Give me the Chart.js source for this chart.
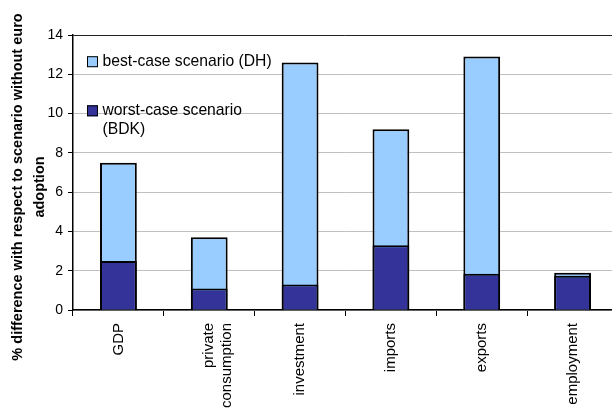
<!DOCTYPE html>
<html>
<head>
<meta charset="utf-8">
<script src="https://cdn.jsdelivr.net/npm/chart.js@4/dist/chart.umd.min.js"></script>
<style>
  html, body { margin: 0; padding: 0; background: #fff; overflow: hidden; width: 612px; height: 409px; }
  #wrap { position: absolute; left: 0; top: 0; width: 640px; height: 409px; }
</style>
</head>
<body>
<div id="wrap"><canvas id="chart"></canvas></div>
<script>
// Categories and scenario results (% difference vs. no euro adoption)
const categories = ['GDP', ['private', 'consumption'], 'investment', 'imports', 'exports', 'employment'];
const bestCase = [7.5, 3.7, 12.6, 9.2, 12.9, 1.9];
const worstCase = [2.5, 1.1, 1.3, 3.3, 1.85, 1.75];
const yTicks = [0, 2, 4, 6, 8, 10, 12, 14];
const bestLabel = 'best-case scenario (DH)';
const worstLabel = ['worst-case scenario', '(BDK)'];
const yTitle = ['% difference with respect to scenario without euro', 'adoption'];

const FONT = 'Arial, "Liberation Sans", sans-serif';
Chart.defaults.font.family = FONT;
Chart.defaults.color = '#000';

// Legend drawn inside the plot area, top-left
const innerLegend = {
  id: 'innerLegend',
  afterDraw(chart) {
    const ctx = chart.ctx;
    ctx.save();
    ctx.font = '15.7px ' + FONT;
    ctx.textBaseline = 'middle';
    ctx.textAlign = 'left';
    const items = [
      { ds: chart.data.datasets[1], y: 61.7 },
      { ds: chart.data.datasets[0], y: 110.8 }
    ];
    items.forEach(it => {
      ctx.fillStyle = it.ds.backgroundColor;
      ctx.fillRect(87, it.y - 5.5, 11, 11);
      ctx.strokeStyle = '#000';
      ctx.lineWidth = 1;
      ctx.strokeRect(87.5, it.y - 5, 10, 10);
      ctx.fillStyle = '#000';
      const lines = Array.isArray(it.ds.label) ? it.ds.label : [it.ds.label];
      lines.forEach((ln, i) => ctx.fillText(ln, 102.5, it.y + i * 18.6));
    });
    ctx.restore();
  }
};

// Two-line rotated title for the value axis
const axisTitle = {
  id: 'axisTitle',
  afterDraw(chart) {
    const ctx = chart.ctx;
    ctx.save();
    ctx.font = 'bold 14.5px ' + FONT;
    ctx.fillStyle = '#000';
    ctx.textAlign = 'center';
    ctx.textBaseline = 'middle';
    const xs = [17.8, 39.6];
    yTitle.forEach((ln, i) => {
      ctx.save();
      ctx.translate(xs[i], 187);
      ctx.rotate(-Math.PI / 2);
      ctx.fillText(ln, 0, 0);
      ctx.restore();
    });
    ctx.restore();
  }
};

new Chart(document.getElementById('chart'), {
  type: 'bar',
  data: {
    labels: categories,
    datasets: [
      {
        label: worstLabel,
        data: worstCase,
        backgroundColor: '#333399',
        borderColor: '#000',
        borderWidth: 2,
        grouped: false,
        order: 0,
        categoryPercentage: 1,
        barPercentage: 0.405
      },
      {
        label: bestLabel,
        data: bestCase,
        backgroundColor: '#99CCFF',
        borderColor: '#000',
        borderWidth: 2,
        grouped: false,
        order: 1,
        categoryPercentage: 1,
        barPercentage: 0.405
      }
    ]
  },
  options: {
    responsive: true,
    maintainAspectRatio: false,
    animation: false,
    layout: { padding: { top: 35, right: 22, bottom: 0, left: 0 } },
    plugins: {
      legend: { display: false },
      tooltip: { enabled: false }
    },
    scales: {
      x: {
        offset: true,
        grid: {
          offset: true,
          drawOnChartArea: false,
          drawTicks: true,
          tickLength: 6,
          tickColor: '#000',
          tickWidth: 1
        },
        border: { display: true, color: '#000', width: 1.5 },
        ticks: {
          minRotation: 90,
          maxRotation: 90,
          autoSkip: false,
          padding: 7,
          color: '#000',
          font: { size: 15, family: FONT }
        },
        afterFit(scale) { scale.height = 99; }
      },
      y: {
        min: 0,
        max: 14,
        afterBuildTicks(scale) { scale.ticks = yTicks.map(v => ({ value: v })); },
        grid: {
          color: c => (c.tick && c.tick.value === 14 ? '#222' : '#c0c0c0'),
          lineWidth: 1,
          drawTicks: true,
          tickLength: 5,
          tickColor: '#000'
        },
        border: { display: true, color: '#000', width: 1.5 },
        ticks: {
          padding: 5,
          color: '#000',
          font: { size: 14, family: FONT }
        },
        afterFit(scale) { scale.width = 73; }
      }
    }
  },
  plugins: [innerLegend, axisTitle]
});
</script>
</body>
</html>
